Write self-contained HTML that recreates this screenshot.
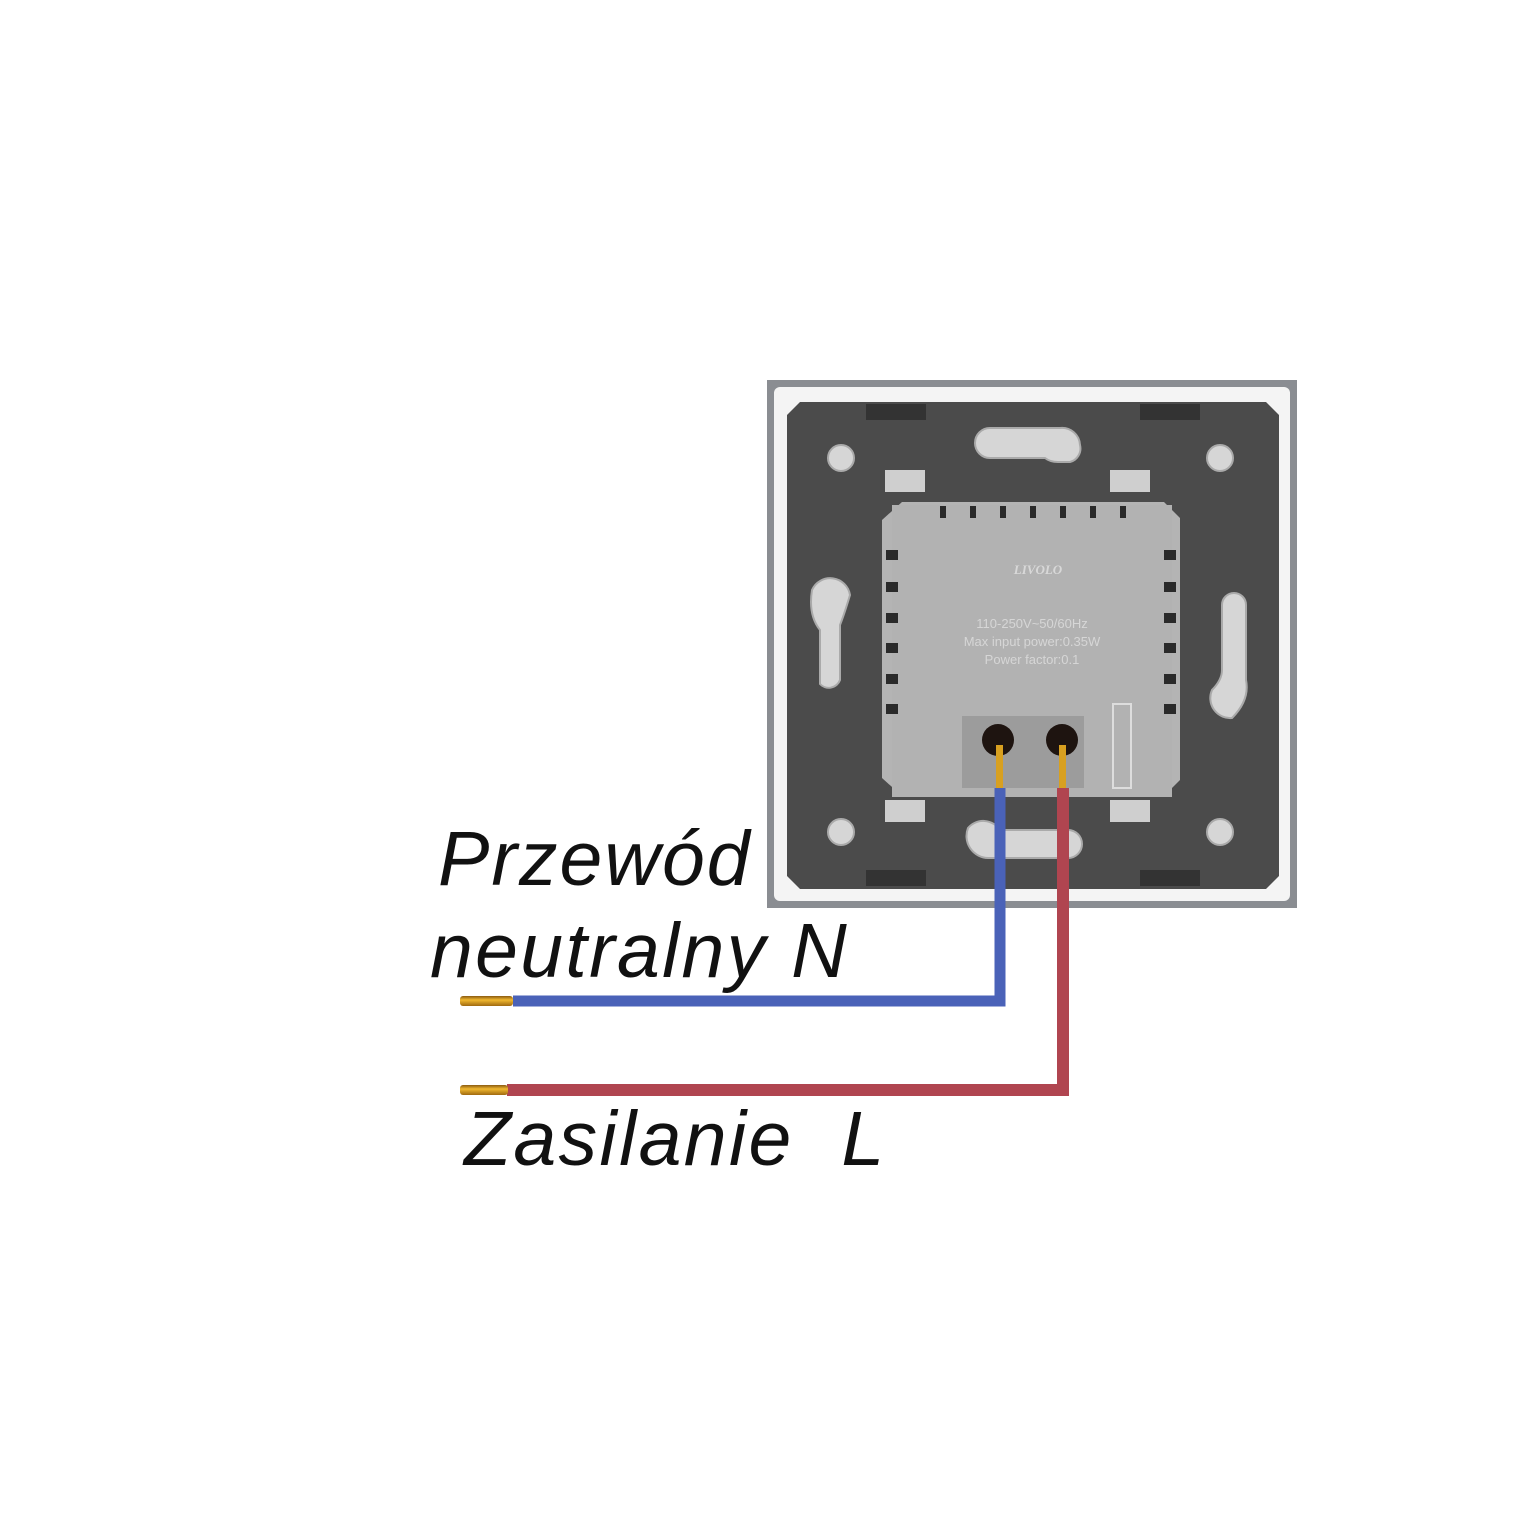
<!DOCTYPE html>
<html><head><style>
html,body{margin:0;padding:0;background:#fff;}
body{width:1540px;height:1540px;position:relative;overflow:hidden;font-family:"Liberation Sans",sans-serif;}
.t{position:absolute;font-style:italic;font-size:77px;color:#111;line-height:1;white-space:pre;}
</style></head><body>
<svg width="1540" height="1540" style="position:absolute;left:0;top:0">
<defs>
<linearGradient id="cu" x1="0" y1="0" x2="0" y2="1"><stop offset="0" stop-color="#8a5a10"/><stop offset="0.4" stop-color="#f0b830"/><stop offset="1" stop-color="#a06a10"/></linearGradient>
</defs>
<rect x="767" y="380" width="530" height="528" fill="#8a8d92"/>
<rect x="774" y="387" width="516" height="514" rx="6" fill="#f4f4f4"/>
<path d="M800 402 H1266 L1279 415 V876 L1266 889 H800 L787 876 V415 Z" fill="#4b4b4b"/>
<rect x="866" y="404" width="60" height="16" fill="#333"/><rect x="1140" y="404" width="60" height="16" fill="#333"/>
<rect x="866" y="870" width="60" height="16" fill="#333"/><rect x="1140" y="870" width="60" height="16" fill="#333"/>
<g fill="#d6d6d6" stroke="#aaa" stroke-width="2">
<circle cx="841" cy="458" r="13"/><circle cx="1220" cy="458" r="13"/>
<circle cx="841" cy="832" r="13"/><circle cx="1220" cy="832" r="13"/>
<path d="M990 428 H1060 A18 18 0 0 1 1080 445 A14 14 0 0 1 1070 462 L1058 462 Q1050 462 1045 458 H990 A15 15 0 0 1 990 428Z"/>
<path d="M968 828 A20 20 0 0 1 1000 830 H1068 A14 14 0 0 1 1068 858 H988 A22 22 0 0 1 968 828Z"/>
<path d="M812 590 A20 20 0 0 1 850 595 Q844 615 840 625 V680 A12 12 0 0 1 820 684 V630 Q808 615 812 590Z"/>
<path d="M1222 605 A12 12 0 0 1 1246 605 V680 Q1250 700 1232 718 A20 20 0 0 1 1212 690 Q1222 680 1222 670Z"/>
</g>
<g fill="#cfcfcf"><rect x="885" y="470" width="40" height="22"/><rect x="1110" y="470" width="40" height="22"/><rect x="885" y="800" width="40" height="22"/><rect x="1110" y="800" width="40" height="22"/></g>
<path d="M902 502 H1164 L1180 518 V780 L1164 796 H902 L882 778 V520 Z" fill="#b4b4b4"/>
<rect x="892" y="505" width="280" height="292" fill="#b2b2b2"/>
<g fill="#2a2a2a">
<rect x="940" y="506" width="6" height="12"/><rect x="970" y="506" width="6" height="12"/><rect x="1000" y="506" width="6" height="12"/><rect x="1030" y="506" width="6" height="12"/><rect x="1060" y="506" width="6" height="12"/><rect x="1090" y="506" width="6" height="12"/><rect x="1120" y="506" width="6" height="12"/>
<rect x="886" y="550" width="12" height="10"/><rect x="886" y="582" width="12" height="10"/><rect x="886" y="613" width="12" height="10"/><rect x="886" y="643" width="12" height="10"/><rect x="886" y="674" width="12" height="10"/><rect x="886" y="704" width="12" height="10"/>
<rect x="1164" y="550" width="12" height="10"/><rect x="1164" y="582" width="12" height="10"/><rect x="1164" y="613" width="12" height="10"/><rect x="1164" y="643" width="12" height="10"/><rect x="1164" y="674" width="12" height="10"/><rect x="1164" y="704" width="12" height="10"/>
</g>
<rect x="962" y="716" width="122" height="72" fill="#9c9c9c"/>
<rect x="1113" y="704" width="18" height="84" fill="none" stroke="#ddd" stroke-width="2"/>
<circle cx="998" cy="740" r="16" fill="#1e1410"/><circle cx="1062" cy="740" r="16" fill="#1e1410"/>
<text x="1038" y="574" font-family="Liberation Serif" font-style="italic" font-weight="bold" font-size="13" fill="#d8d8d8" text-anchor="middle">LIVOLO</text>
<g font-family="Liberation Sans" font-size="13" fill="#d6d6d6" text-anchor="middle">
<text x="1032" y="628">110-250V~50/60Hz</text><text x="1032" y="646">Max input power:0.35W</text><text x="1032" y="664">Power factor:0.1</text></g>
<rect x="996" y="745" width="7" height="45" fill="#d8a020"/>
<rect x="1059" y="745" width="7" height="45" fill="#d8a020"/>
<path d="M1000 788 V1001 H513" fill="none" stroke="#4a62b8" stroke-width="11"/>
<path d="M1063 788 V1090 H507" fill="none" stroke="#b04550" stroke-width="12"/>
<rect x="460" y="996" width="53" height="10" rx="3" fill="url(#cu)"/>
<rect x="460" y="1085" width="48" height="10" rx="3" fill="url(#cu)"/>
</svg>
<div class="t" style="left:438px;top:821px;letter-spacing:2px">Przewód</div>
<div class="t" style="left:430px;top:913px;letter-spacing:2.3px">neutralny N</div>
<div class="t" style="left:464px;top:1101px;letter-spacing:2.4px">Zasilanie  L</div>
</body></html>
